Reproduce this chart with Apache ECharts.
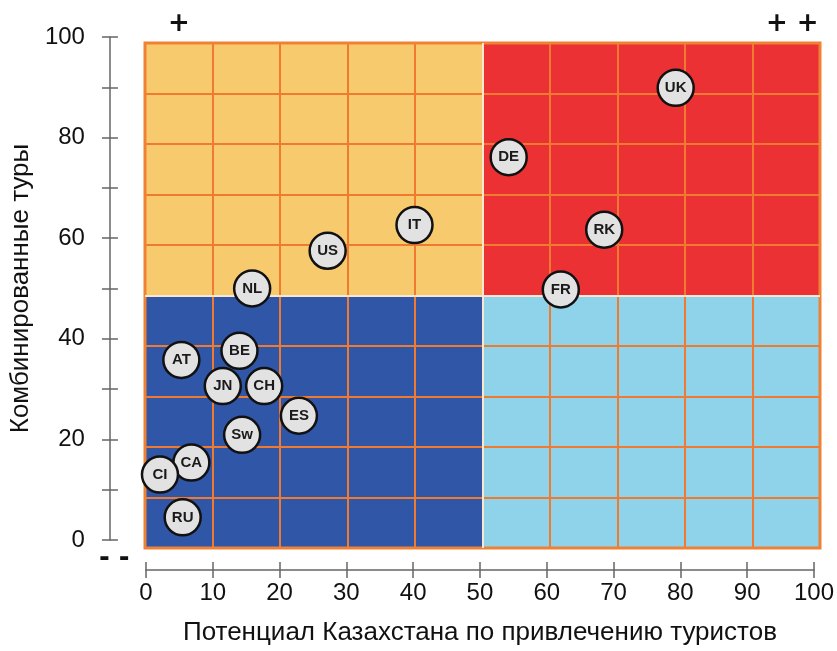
<!DOCTYPE html>
<html><head><meta charset="utf-8">
<script src="https://cdn.jsdelivr.net/npm/echarts@6/dist/echarts.min.js"></script>
<style>html,body{margin:0;padding:0;background:#fff}#c{width:837px;height:651px}</style>
</head><body><div id="c"></div>
<script>
const countries = ['UK','DE','IT','RK','US','FR','NL','AT','BE','JN','CH','ES','Sw','CA','CI','RU'];
const potential = [79.3,54.3,40.2,68.6,27.2,62.1,15.9,5.3,14.0,11.5,17.7,22.9,14.4,6.8,2.1,5.5];
const combined  = [89.9,76.1,62.6,61.7,57.5,49.8,50.0,35.8,37.6,30.6,30.6,24.7,20.9,15.4,13.0,4.5];
const xTicks = [0,10,20,30,40,50,60,70,80,90,100];
const yTickLabels = [0,20,40,60,80,100];
const quadrants = [
  {x:[0,50], y:[50,100]},
  {x:[50,100], y:[50,100]},
  {x:[0,50], y:[0,50]},
  {x:[50,100], y:[0,50]}
];
const quadrantColors = ['#f8ca6e','#ec3134','#2f56a7','#8fd3ea'];
const xName = 'Потенциал Казахстана по привлечению туристов';
const yName = 'Комбинированные туры';

const chart = echarts.init(document.getElementById('c'));
const font = '"Liberation Sans", Arial, sans-serif';
const scatterData = countries.map((n,i)=>({name:n, value:[potential[i], combined[i]]}));
const hiddenLine = {show:true, onZero:false, lineStyle:{color:'rgba(0,0,0,0)', width:0}};

chart.setOption({
  animation:false,
  grid:[
    {left:145, top:43, width:675, height:505, show:true, borderColor:'#ef8135', borderWidth:3, backgroundColor:'transparent', z:4},
    {left:142, top:37, width:672, height:506}
  ],
  xAxis:[
    {gridIndex:0, type:'value', min:0, max:100, interval:10, z:3, axisLine:{show:false}, axisTick:{show:false}, axisLabel:{show:false},
     splitLine:{show:true, lineStyle:{color:'#f07a30', width:2}}},
    {gridIndex:1, type:'value', min:0, max:100, interval:10, offset:30, position:'bottom',
     axisLine:{show:true, onZero:false, lineStyle:{color:'#666', width:1.5}},
     axisTick:{show:true, length:8, lineStyle:{color:'#666', width:1.5}},
     axisLabel:{show:true, fontSize:24, color:'#111', fontFamily:font, margin:11,
       formatter:v=> xTicks.includes(v) ? String(v) : ''},
     splitLine:{show:false},
     name:xName, nameLocation:'middle', nameGap:50, nameTextStyle:{fontSize:26, color:'#111', fontFamily:font}},
    {gridIndex:1, type:'value', min:0, max:100, interval:10, offset:30, position:'bottom',
     axisLine:hiddenLine, axisTick:{show:true, inside:true, length:8, lineStyle:{color:'#666', width:1.5}},
     axisLabel:{show:false}, splitLine:{show:false}}
  ],
  yAxis:[
    {gridIndex:0, type:'value', min:0, max:100, interval:10, z:3, axisLine:{show:false}, axisTick:{show:false}, axisLabel:{show:false},
     splitLine:{show:true, lineStyle:{color:'#f07a30', width:2}}},
    {gridIndex:1, type:'value', min:0, max:100, interval:10, offset:36, position:'left',
     axisLine:{show:true, onZero:false, lineStyle:{color:'#666', width:1.5}},
     axisTick:{show:true, length:8, lineStyle:{color:'#666', width:1.5}},
     axisLabel:{show:true, fontSize:24, color:'#111', fontFamily:font, margin:25,
       formatter:v=> yTickLabels.includes(v) ? String(v) : ''},
     splitLine:{show:false},
     name:yName, nameLocation:'middle', nameGap:62, nameRotate:90, nameTextStyle:{fontSize:26, color:'#111', fontFamily:font}},
    {gridIndex:1, type:'value', min:0, max:100, interval:10, offset:36, position:'left',
     axisLine:hiddenLine, axisTick:{show:true, inside:true, length:8, lineStyle:{color:'#666', width:1.5}},
     axisLabel:{show:false}, splitLine:{show:false}}
  ],
  series:[
    {type:'scatter', xAxisIndex:0, yAxisIndex:0, data:[], z:1, silent:true,
     markArea:{silent:true, data: quadrants.map((q,i)=>[
        {xAxis:q.x[0], yAxis:q.y[0], itemStyle:{color:quadrantColors[i], opacity:1}},
        {xAxis:q.x[1], yAxis:q.y[1]}
     ])}},
    {type:'scatter', xAxisIndex:0, yAxisIndex:0, data:[], z:4, silent:true,
     markLine:{silent:true, symbol:'none', label:{show:false},
       lineStyle:{color:'#fbe6cf', width:2, type:'solid'},
       data:[{xAxis:50},{yAxis:50}]}},
    {type:'scatter', xAxisIndex:1, yAxisIndex:1, data:scatterData, z:6,
     symbol:'circle', symbolSize:36,
     itemStyle:{color:'#e2e2e2', borderColor:'#111', borderWidth:2.5, opacity:1},
     label:{show:true, position:'inside', formatter:p=>p.name, color:'#1a1a1a', fontWeight:'bold', fontSize:15, fontFamily:font}}
  ],
  graphic:[
    {type:'text', left:168, top:11, style:{text:'+', fill:'#111', font:'bold 26px "DejaVu Sans"'}},
    {type:'text', left:766, top:11, style:{text:'+ +', fill:'#111', font:'bold 26px "DejaVu Sans"'}},
    {type:'text', left:99, top:546, style:{text:'- -', fill:'#111', font:'bold 26px "DejaVu Sans"'}}
  ]
});
</script></body></html>
